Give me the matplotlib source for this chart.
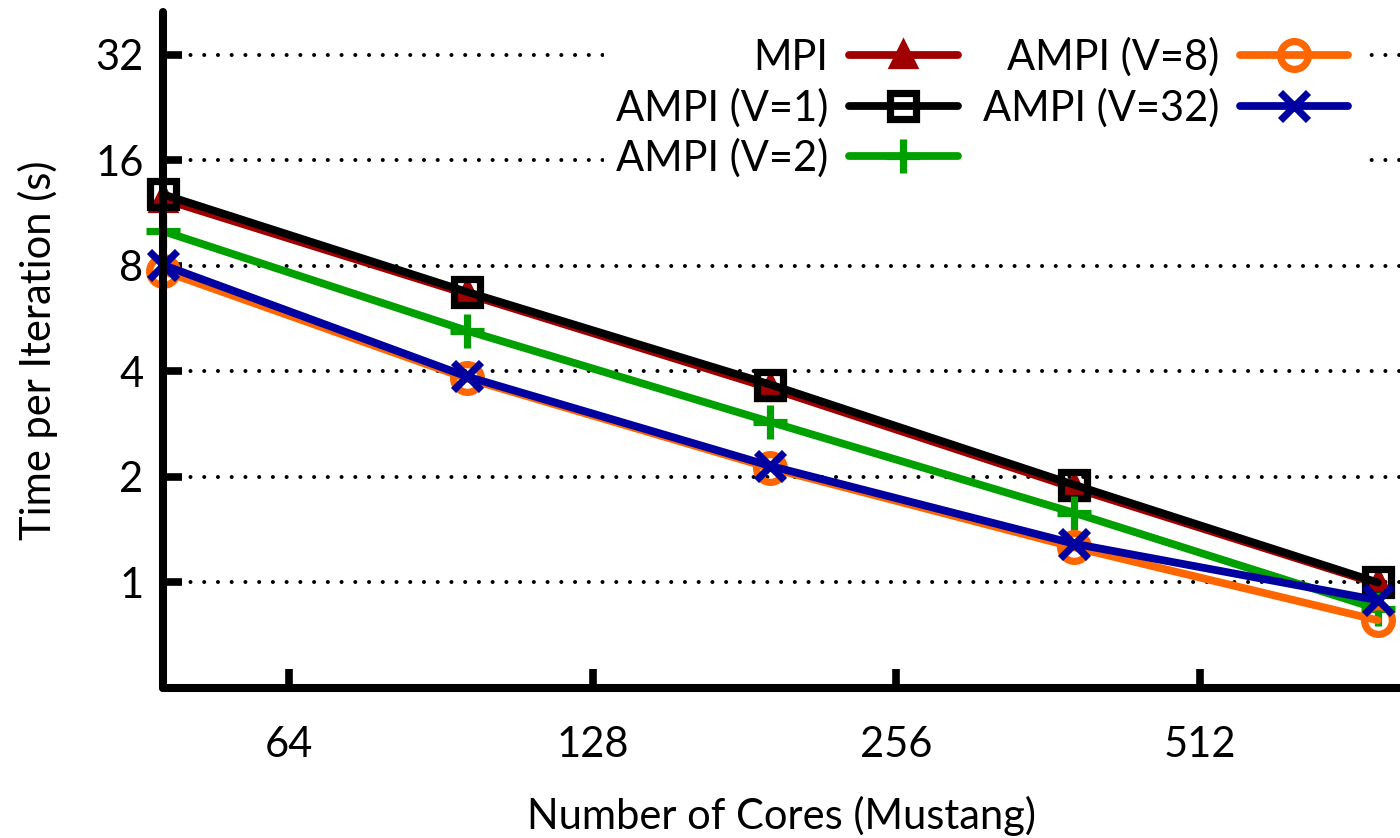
"""Time per iteration vs cores on Mustang, MPI vs AMPI virtualization ratios."""

import matplotlib
matplotlib.use("Agg")
import matplotlib.pyplot as plt
from matplotlib.ticker import FixedLocator, NullLocator

plt.rcParams["font.family"] = ["Lato", "DejaVu Sans"]

cores = [48, 96, 192, 384, 768]
mpi = [12.4, 6.65, 3.58, 1.86, 0.99]
ampi_v1 = [12.8, 6.75, 3.67, 1.90, 1.0]
ampi_v2 = [10.05, 5.23, 2.87, 1.58, 0.84]
ampi_v8 = [7.74, 3.82, 2.12, 1.26, 0.78]
ampi_v32 = [8.05, 3.87, 2.15, 1.29, 0.89]

x_ticks = [64, 128, 256, 512]
y_ticks = [1, 2, 4, 8, 16, 32]

series = [
    ("MPI", mpi, "#a00000", "^", "#a00000", 15),
    ("AMPI (V=1)", ampi_v1, "black", "s", "none", 19),
    ("AMPI (V=2)", ampi_v2, "#00a000", "+", "#00a000", 24),
    ("AMPI (V=8)", ampi_v8, "#ff6600", "o", "none", 20),
    ("AMPI (V=32)", ampi_v32, "#0000a0", "x", "#0000a0", 20),
]


def main() -> None:
    fig = plt.figure(figsize=(14, 8.38), dpi=100)
    ax = fig.add_axes([163 / 1400, 150 / 838, 1 - 163 / 1400, (826 - 150) / 838])

    for label, values, color, marker, face, size in series:
        ax.plot(cores, values, color=color, lw=5.6, marker=marker, ms=size,
                mfc=face, mec=color, mew=5.2, label=label, clip_on=False,
                solid_capstyle="round", solid_joinstyle="round")

    ax.set_xscale("log", base=2)
    ax.set_yscale("log", base=2)
    ax.set_xlim(48, 808)
    ax.set_ylim(0.5, 42.4)

    ax.xaxis.set_major_locator(FixedLocator(x_ticks))
    ax.xaxis.set_minor_locator(NullLocator())
    ax.yaxis.set_major_locator(FixedLocator(y_ticks))
    ax.yaxis.set_minor_locator(NullLocator())
    ax.set_xticklabels([str(t) for t in x_ticks])
    ax.set_yticklabels([str(t) for t in y_ticks])
    ax.tick_params(direction="in", length=14, width=5.5, labelsize=30)
    ax.tick_params(axis="x", pad=27)
    ax.tick_params(axis="y", pad=14)

    ax.grid(axis="y", linestyle=(0, (0.01, 3.4)), color="black", lw=2.9,
            dash_capstyle="round")
    ax.set_axisbelow(True)

    for side in ["top", "right"]:
        ax.spines[side].set_visible(False)
    for side in ["left", "bottom"]:
        ax.spines[side].set_linewidth(5.8)
        ax.spines[side].set_capstyle("round")

    ax.set_xlabel("Number of Cores (Mustang)", fontsize=30, labelpad=23)
    ax.set_ylabel("Time per Iteration (s)", fontsize=30, labelpad=27)

    leg = ax.legend(ncol=2, loc="upper right", bbox_to_anchor=(0.985, 1.012),
                    markerfirst=False, fontsize=30, handlelength=2.6,
                    handletextpad=0.5, columnspacing=0.6, labelspacing=0.27,
                    frameon=True, fancybox=False, borderpad=0.3)
    leg.get_frame().set_facecolor("white")
    leg.get_frame().set_edgecolor("none")
    leg.get_frame().set_alpha(1)

    fig.savefig("out.png", dpi=100)


if __name__ == "__main__":
    main()
